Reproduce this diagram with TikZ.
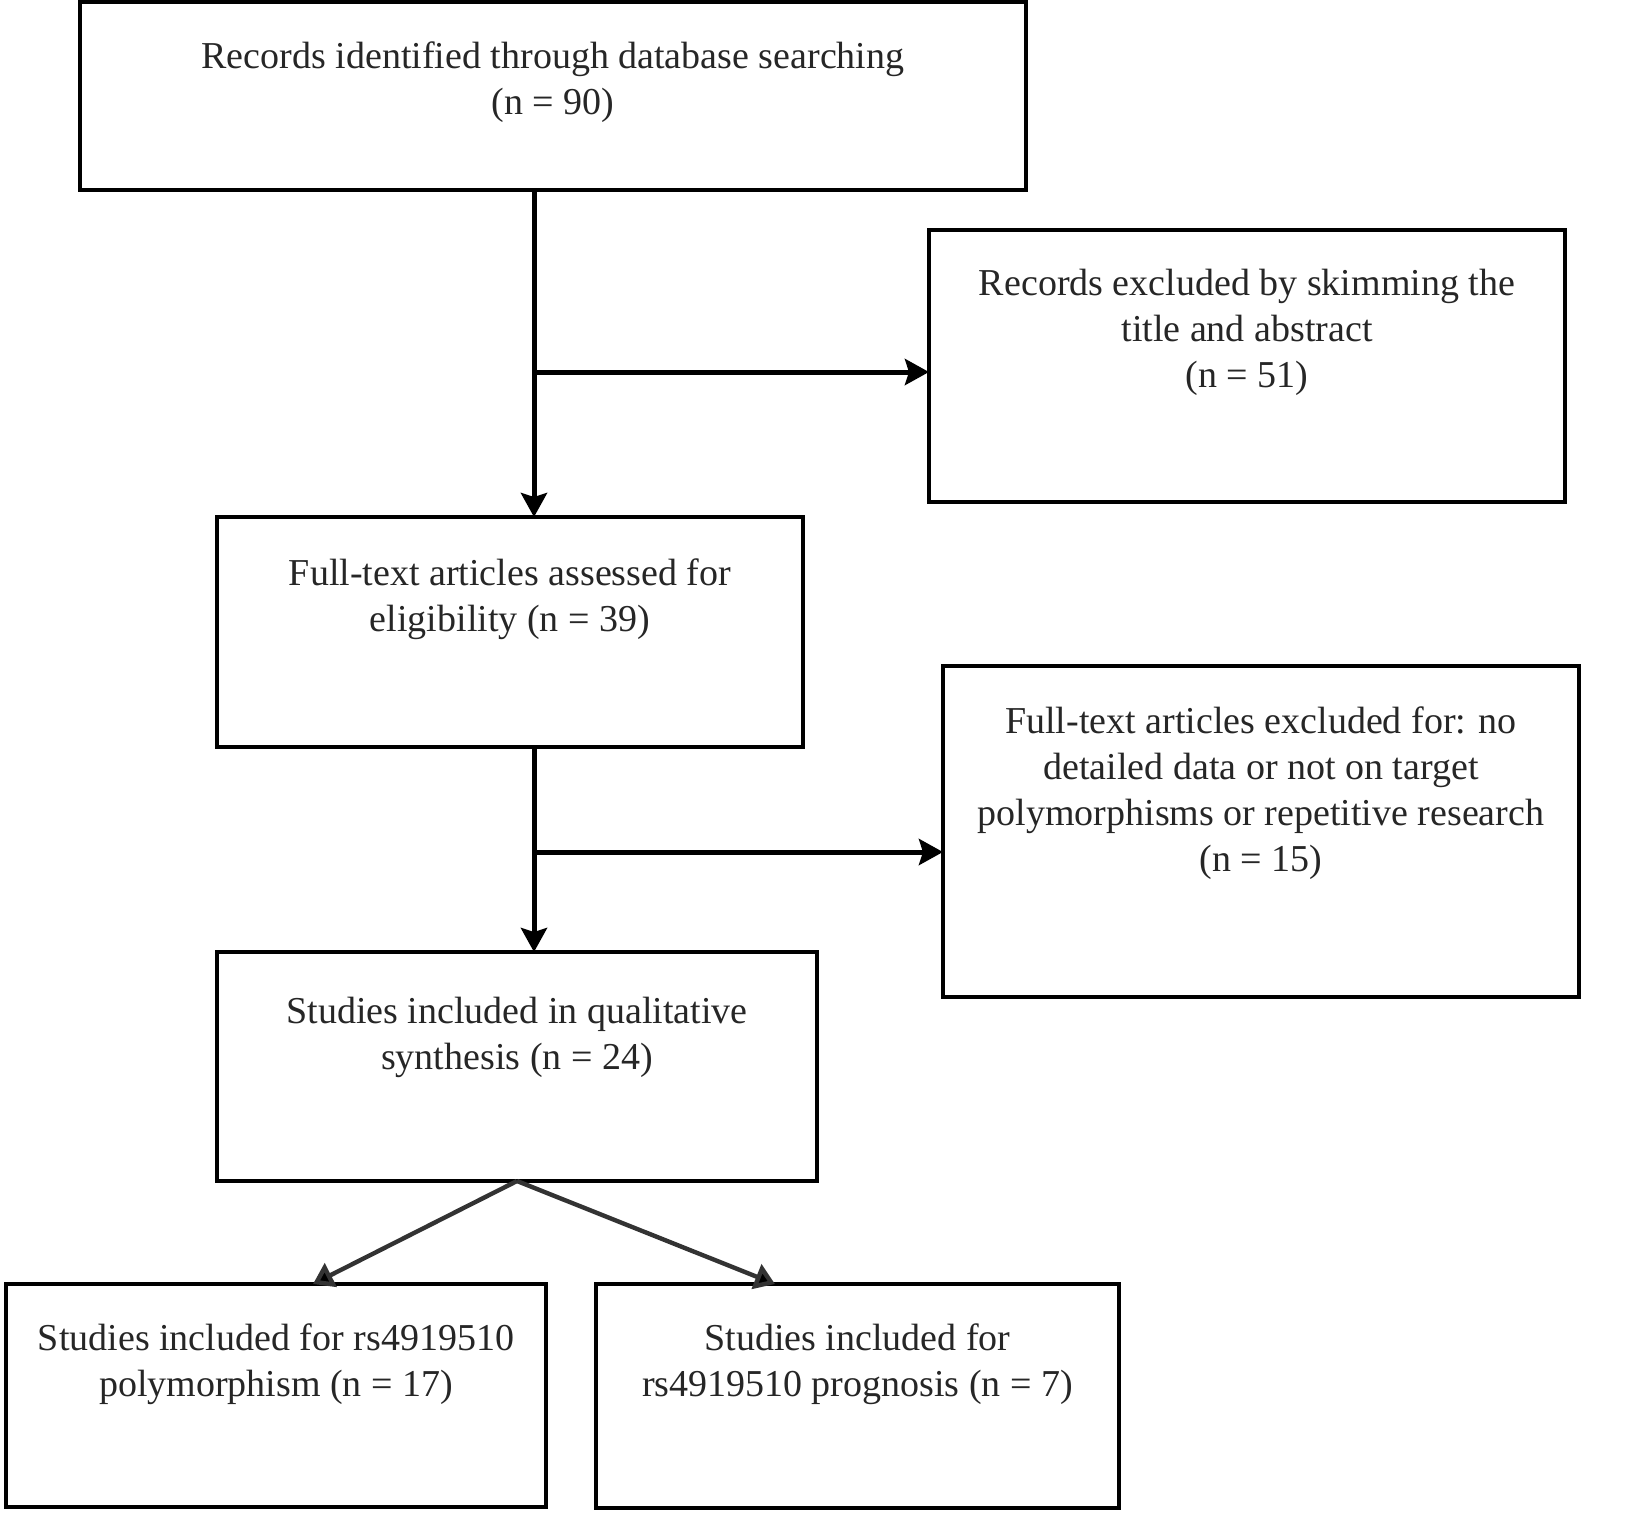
\documentclass[tikz,border=0pt]{standalone}
\usepackage{fontspec}
\setmainfont{Liberation Serif}
\usetikzlibrary{arrows.meta}
\begin{document}
\begin{tikzpicture}[x=0.5pt,y=-0.5pt,
  box/.style={draw=black, line width=1.8pt, inner sep=0pt, outer sep=0pt},
  txt/.style={anchor=base, align=center, font=\fontsize{19}{23}\selectfont, inner sep=0pt, text=black!85},
  arr/.style={line width=2.5pt, -{Stealth[length=12pt,width=13pt,inset=2pt]}},
  darr/.style={line width=2.2pt, draw=black!80, -{Triangle[length=10pt,width=13pt,fill=black]}}]
\useasboundingbox (0,0) rectangle (1650,1528);
% boxes
\node[box, minimum width=473pt, minimum height=94pt]    (b1) at (553,96) {};
\node[box, minimum width=318pt, minimum height=136pt]   (b2) at (1247,366) {};
\node[box, minimum width=293pt, minimum height=115pt]   (b3) at (510,632) {};
\node[box, minimum width=318pt, minimum height=165.5pt] (b4) at (1261,831.5) {};
\node[box, minimum width=300pt, minimum height=114.5pt] (b5) at (517,1066.5) {};
\node[box, minimum width=270pt, minimum height=111.5pt] (b6) at (276,1395.5) {};
\node[box, minimum width=261.5pt, minimum height=112pt] (b7) at (857.5,1396) {};
% texts (anchor base = baseline of the last line)
\node[txt] (t1) at ([yshift=-56pt]b1.north) {Records identified through database searching\\(n = 90)};
\node[txt] (t2) at ([yshift=-78.5pt]b2.north) {Records excluded by skimming the\\title and abstract\\(n = 51)};
\node[txt] (t3) at ([yshift=-57pt]b3.north) {Full-text articles assessed for\\eligibility (n = 39)};
\node[txt] (t4) at ([yshift=-102.5pt]b4.north) {Full-text articles excluded for: no\\detailed data or not on target\\polymorphisms or repetitive research\\(n = 15)};
\node[txt] (t5) at ([yshift=-58.5pt]b5.north) {Studies included in qualitative\\synthesis (n = 24)};
\node[txt] (t6) at ([yshift=-56pt]b6.north) {Studies included for rs4919510\\polymorphism (n = 17)};
\node[txt] (t7) at ([yshift=-56pt]b7.north) {Studies included for\\rs4919510 prognosis (n = 7)};
% junctions
\coordinate (j1) at (534,372);
\coordinate (j2) at (534,852);
% connectors
\draw[arr] (b1.south -| j1) -- (b3.north -| j1);
\draw[arr] (j1) -- (j1 -| b2.west);
\draw[arr] (b3.south -| j2) -- (b5.north -| j2);
\draw[arr] (j2) -- (j2 -| b4.west);
\draw[darr] (b5.south) -- ([xshift=18.5pt]b6.north);
\draw[darr] (b5.south) -- ([xshift=-41.25pt]b7.north);
\end{tikzpicture}
\end{document}
